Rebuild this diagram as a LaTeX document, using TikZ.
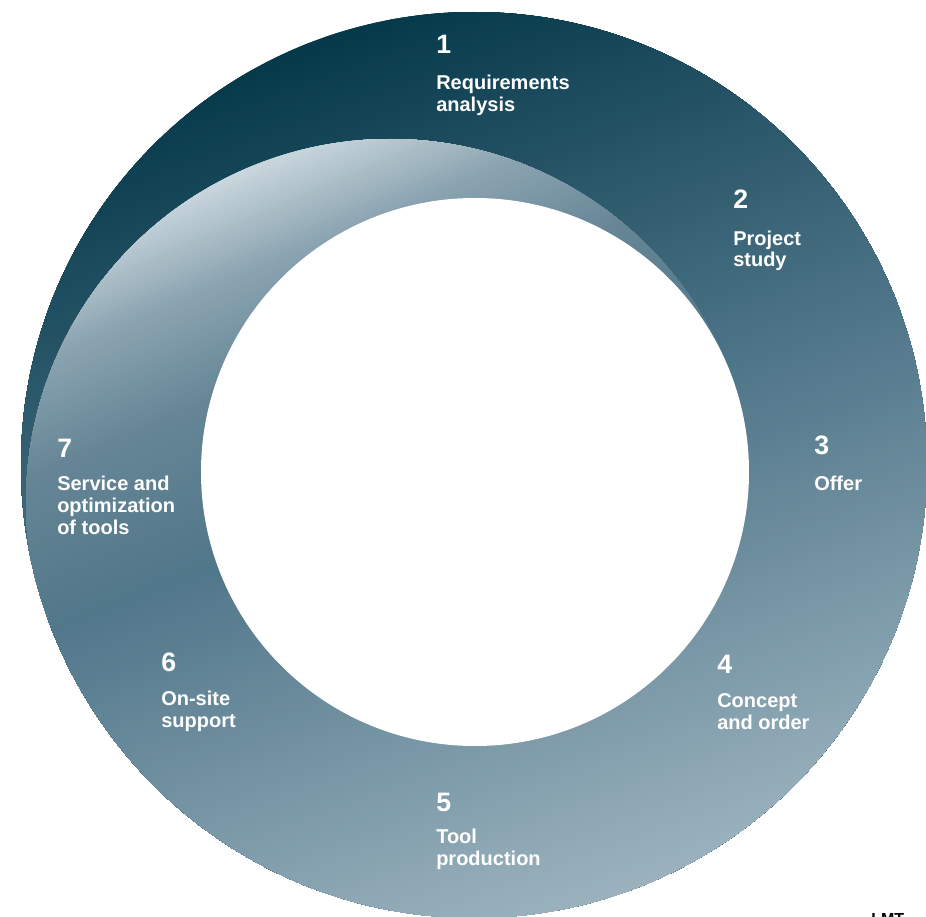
\documentclass[tikz,border=0pt]{standalone}
\usepackage{fontspec}
\setmainfont{Liberation Sans}
\definecolor{ringA}{HTML}{053949}
\definecolor{ringB}{HTML}{50768A}
\definecolor{ringC}{HTML}{9CB3BE}
\definecolor{swA}{HTML}{CBD8DF}
\definecolor{swB}{HTML}{8AA3B0}
\definecolor{swM}{HTML}{668696}
\definecolor{swC}{HTML}{51778A}
\newcommand\steplabel[1]{\parbox[t]{6cm}{\raggedright\fontsize{15pt}{16.5pt}\selectfont\bfseries #1}}
\begin{document}
\begin{tikzpicture}[x=0.75pt,y=-0.75pt,
  num/.style={anchor=base west, inner sep=0pt, text=white, font=\fontsize{20pt}{24pt}\selectfont\bfseries},
  lab/.style={anchor=base west, inner sep=0pt, text=white},
  logotext/.style={anchor=north west, inner sep=0pt, text=black, font=\fontsize{12pt}{14pt}\selectfont\bfseries}]
\useasboundingbox (0,0) rectangle (926,917);
\fill[white] (0,0) rectangle (926,917);
\coordinate (C) at (474,465);
% base ring gradient
\begin{scope}
  \clip (C) circle[radius=453];
  \begin{scope}[rotate around={20:(C)}]
    \fill[ringA] (-40,-40) rectangle (990,990);
    \foreach \i in {0,...,79}{
      \pgfmathsetmacro\yy{12+\i/80*453}
      \pgfmathsetmacro\pc{\i/80*100}
      \fill[fill={ringB!\pc!ringA}] (-40,\yy) rectangle (990,990);
    }
    \foreach \i in {0,...,80}{
      \pgfmathsetmacro\yy{465+\i/80*453}
      \pgfmathsetmacro\pc{\i/80*100}
      \fill[fill={ringC!\pc!ringB}] (-40,\yy) rectangle (990,990);
    }
  \end{scope}
\end{scope}
% light swoosh
\begin{scope}
  \clip (C) circle[radius=453];
  \clip (390,503) circle[radius=364];
  \clip (0,0) -- (0,648) -- (215,569) -- (475,472) -- (800,352) -- (926,0) -- cycle;
  \begin{scope}[rotate around={23:(C)}]
    \fill[swA] (-150,-150) rectangle (1100,1100);
    \foreach \i in {0,...,40}{
      \pgfmathsetmacro\yy{100+\i/40*100}
      \pgfmathsetmacro\pc{\i/40*100}
      \fill[fill={swB!\pc!swA}] (-150,\yy) rectangle (1100,1100);
    }
    \foreach \i in {0,...,40}{
      \pgfmathsetmacro\yy{200+\i/40*100}
      \pgfmathsetmacro\pc{\i/40*100}
      \fill[fill={swM!\pc!swB}] (-150,\yy) rectangle (1100,1100);
    }
    \foreach \i in {0,...,60}{
      \pgfmathsetmacro\yy{300+\i/60*152}
      \pgfmathsetmacro\pc{\i/60*100}
      \fill[fill={swC!\pc!swM}] (-150,\yy) rectangle (1100,1100);
    }
  \end{scope}
\end{scope}
% inner hole
\fill[white] (475,472) circle[radius=274];
% labels
\node[num] (n1) at (436,54) {1};
\node[lab] (l1) at (436,90) {\steplabel{Requirements\\analysis}};
\node[num] (n2) at (733,209) {2};
\node[lab] (l2) at (733,245) {\steplabel{Project\\study}};
\node[num] (n3) at (814,454) {3};
\node[lab] (l3) at (814,490) {\steplabel{Offer}};
\node[num] (n4) at (717,673) {4};
\node[lab] (l4) at (717,707) {\steplabel{Concept\\and order}};
\node[num] (n5) at (436,811) {5};
\node[lab] (l5) at (436,843) {\steplabel{Tool\\production}};
\node[num] (n6) at (161,671) {6};
\node[lab] (l6) at (161,705) {\steplabel{On-site\\support}};
\node[num] (n7) at (57,457) {7};
\node[lab] (l7) at (57,490) {\steplabel{Service and\\optimization\\of tools}};
\node[logotext] (logo) at (871,913) {LMT};
\end{tikzpicture}
\end{document}
